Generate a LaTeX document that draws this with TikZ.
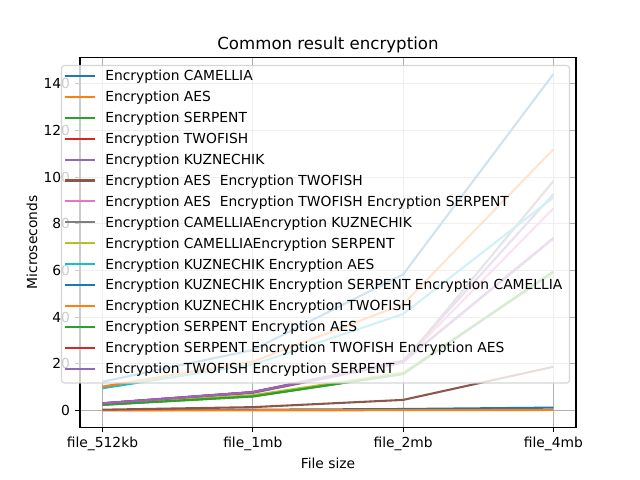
\documentclass[tikz,border=0pt]{standalone}
\usepackage{fontspec}
\setmainfont{DejaVu Sans}

\definecolor{tabblue}{HTML}{1F77B4}
\definecolor{taborange}{HTML}{FF7F0E}
\definecolor{tabgreen}{HTML}{2CA02C}
\definecolor{tabred}{HTML}{D62728}
\definecolor{tabpurple}{HTML}{9467BD}
\definecolor{tabbrown}{HTML}{8C564B}
\definecolor{tabpink}{HTML}{E377C2}
\definecolor{tabgray}{HTML}{7F7F7F}
\definecolor{tabolive}{HTML}{BCBD22}
\definecolor{tabcyan}{HTML}{17BECF}
\definecolor{gridgray}{HTML}{B0B0B0}
\definecolor{framegray}{HTML}{CCCCCC}

\begin{document}
\begin{tikzpicture}%
        [x=0.72bp,
        y=-0.72bp,
        gridline/.style={color=gridgray, line width=0.8bp},
        spine/.style={color=black, line width=0.8bp},
        tickmark/.style={color=black, line width=0.8bp},
        curve/.style={line width=1.5bp, line join=round},
        ticklabel/.style={font=\fontsize{10}{12}\selectfont, inner sep=0pt},
        legendframe/.style={fill=white, fill opacity=0.8, draw=framegray, draw opacity=0.8, line width=0.8bp, rounded corners=2bp},
        entry/.style={font=\fontsize{10}{12}\selectfont, inner sep=0pt, anchor=base west}]
    %
    %% Page of 640 x 480 pixels
    \fill[white] (0,0) rectangle (640,480);
    \useasboundingbox (0,0) rectangle (640,480);
    %
    %% Data coordinates: x = file index, y = microseconds
    \begin{scope}[shift={(73.8bp,-295.49bp)}, x=108.22bp, y=1.68bp]
    %%
    %% Drawing the grid
    %%
    \draw[gridline] (0,-7.2) -- (0,151.2);
    \draw[gridline] (1,-7.2) -- (1,151.2);
    \draw[gridline] (2,-7.2) -- (2,151.2);
    \draw[gridline] (3,-7.2) -- (3,151.2);
    \draw[gridline] (-0.15,0) -- (3.15,0);
    \draw[gridline] (-0.15,20) -- (3.15,20);
    \draw[gridline] (-0.15,40) -- (3.15,40);
    \draw[gridline] (-0.15,60) -- (3.15,60);
    \draw[gridline] (-0.15,80) -- (3.15,80);
    \draw[gridline] (-0.15,100) -- (3.15,100);
    \draw[gridline] (-0.15,120) -- (3.15,120);
    \draw[gridline] (-0.15,140) -- (3.15,140);
    %%
    %% Drawing the curves
    %%
    \draw[curve, tabblue] (0,0.1) -- (1,0.3) -- (2,0.6) -- (3,1.2);
    \draw[curve, taborange] (0,0) -- (1,0.05) -- (2,0.1) -- (3,0.2);
    \draw[curve, tabgreen] (0,2.4) -- (1,6.0) -- (2,15.6) -- (3,59.5);
    \draw[curve, tabred] (0,3.0) -- (1,7.8) -- (2,20.9) -- (3,73.8);
    \draw[curve, tabpurple] (0,3.1) -- (1,7.9) -- (2,21.3) -- (3,92.7);
    \draw[curve, tabbrown] (0,0.3) -- (1,1.4) -- (2,4.5) -- (3,18.7);
    \draw[curve, tabpink] (0,3.0) -- (1,7.7) -- (2,21.0) -- (3,86.6);
    \draw[curve, tabgray] (0,2.9) -- (1,7.5) -- (2,20.5) -- (3,98.3);
    \draw[curve, tabolive] (0,2.6) -- (1,6.5) -- (2,16.2) -- (3,59.0);
    \draw[curve, tabcyan] (0,9.5) -- (1,19.6) -- (2,41.3) -- (3,91.3);
    \draw[curve, tabblue] (0,12.3) -- (1,25.9) -- (2,58.3) -- (3,144.2);
    \draw[curve, taborange] (0,10.2) -- (1,20.9) -- (2,45.5) -- (3,111.9);
    \draw[curve, tabgreen] (0,2.4) -- (1,6.0) -- (2,15.6) -- (3,59.5);
    \draw[curve, tabred] (0,3.0) -- (1,7.8) -- (2,20.9) -- (3,73.8);
    \draw[curve, tabpurple] (0,3.0) -- (1,7.8) -- (2,20.9) -- (3,73.8);
    \end{scope}
    %
    %% Drawing the axes
    \draw[spine] (80,57.6) rectangle (576,427.2);
    \draw[tickmark] (102.5,427.2) -- (102.5,432.1);
    \draw[tickmark] (252.8,427.2) -- (252.8,432.1);
    \draw[tickmark] (403.1,427.2) -- (403.1,432.1);
    \draw[tickmark] (553.4,427.2) -- (553.4,432.1);
    \draw[tickmark] (80,410.4) -- (75.1,410.4);
    \draw[tickmark] (80,363.7) -- (75.1,363.7);
    \draw[tickmark] (80,317.1) -- (75.1,317.1);
    \draw[tickmark] (80,270.4) -- (75.1,270.4);
    \draw[tickmark] (80,223.7) -- (75.1,223.7);
    \draw[tickmark] (80,177.1) -- (75.1,177.1);
    \draw[tickmark] (80,130.4) -- (75.1,130.4);
    \draw[tickmark] (80,83.7) -- (75.1,83.7);
    %
    %% Tick labels
    \node[ticklabel, anchor=base] (xlab512kb) at (102.5,447.3) {file\_512kb};
    \node[ticklabel, anchor=base] (xlab1mb) at (252.8,447.3) {file\_1mb};
    \node[ticklabel, anchor=base] (xlab2mb) at (403.1,447.3) {file\_2mb};
    \node[ticklabel, anchor=base] (xlab4mb) at (553.4,447.3) {file\_4mb};
    \node[ticklabel, anchor=east] (ylab0) at (70.3,410.4) {0};
    \node[ticklabel, anchor=east] (ylab20) at (70.3,363.7) {20};
    \node[ticklabel, anchor=east] (ylab40) at (70.3,317.1) {40};
    \node[ticklabel, anchor=east] (ylab60) at (70.3,270.4) {60};
    \node[ticklabel, anchor=east] (ylab80) at (70.3,223.7) {80};
    \node[ticklabel, anchor=east] (ylab100) at (70.3,177.1) {100};
    \node[ticklabel, anchor=east] (ylab120) at (70.3,130.4) {120};
    \node[ticklabel, anchor=east] (ylab140) at (70.3,83.7) {140};
    %
    %% Title and axis labels
    \node[font=\fontsize{12}{14}\selectfont, inner sep=0pt, anchor=base] (title) at (328,49.3) {Common result encryption};
    \node[ticklabel, anchor=base] (xtitle) at (328,468) {File size};
    \node[ticklabel, anchor=base, rotate=90] (ytitle) at (37,242.4) {Microseconds};
    %
    %% Drawing the legend
    \filldraw[legendframe] (61.5,65.5) rectangle (569.5,383);
    \draw[curve, tabblue] (65,76) -- (95,76);
    \node[entry] (entry1) at (105,81) {Encryption CAMELLIA};
    \draw[curve, taborange] (65,96.9) -- (95,96.9);
    \node[entry] (entry2) at (105,101.9) {Encryption AES};
    \draw[curve, tabgreen] (65,117.8) -- (95,117.8);
    \node[entry] (entry3) at (105,122.8) {Encryption SERPENT};
    \draw[curve, tabred] (65,138.7) -- (95,138.7);
    \node[entry] (entry4) at (105,143.7) {Encryption TWOFISH};
    \draw[curve, tabpurple] (65,159.6) -- (95,159.6);
    \node[entry] (entry5) at (105,164.6) {Encryption KUZNECHIK};
    \draw[curve, tabbrown] (65,180.5) -- (95,180.5);
    \node[entry] (entry6) at (105,185.5) {Encryption AES\ \ Encryption TWOFISH};
    \draw[curve, tabpink] (65,201.4) -- (95,201.4);
    \node[entry] (entry7) at (105,206.4) {Encryption AES\ \ Encryption TWOFISH Encryption SERPENT};
    \draw[curve, tabgray] (65,222.3) -- (95,222.3);
    \node[entry] (entry8) at (105,227.3) {Encryption CAMELLIAEncryption KUZNECHIK};
    \draw[curve, tabolive] (65,243.2) -- (95,243.2);
    \node[entry] (entry9) at (105,248.2) {Encryption CAMELLIAEncryption SERPENT};
    \draw[curve, tabcyan] (65,264.1) -- (95,264.1);
    \node[entry] (entry10) at (105,269.1) {Encryption KUZNECHIK Encryption AES};
    \draw[curve, tabblue] (65,285) -- (95,285);
    \node[entry] (entry11) at (105,290) {Encryption KUZNECHIK Encryption SERPENT Encryption CAMELLIA};
    \draw[curve, taborange] (65,305.9) -- (95,305.9);
    \node[entry] (entry12) at (105,310.9) {Encryption KUZNECHIK Encryption TWOFISH};
    \draw[curve, tabgreen] (65,326.8) -- (95,326.8);
    \node[entry] (entry13) at (105,331.8) {Encryption SERPENT Encryption AES};
    \draw[curve, tabred] (65,347.7) -- (95,347.7);
    \node[entry] (entry14) at (105,352.7) {Encryption SERPENT Encryption TWOFISH Encryption AES};
    \draw[curve, tabpurple] (65,368.6) -- (95,368.6);
    \node[entry] (entry15) at (105,373.6) {Encryption TWOFISH Encryption SERPENT};
    %%
    \end{tikzpicture}
\end{document}
